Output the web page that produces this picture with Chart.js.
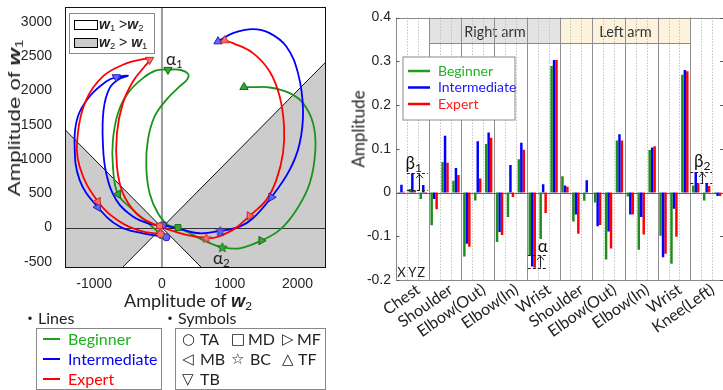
<!DOCTYPE html>
<html><head><meta charset="utf-8">
<script src="https://cdn.jsdelivr.net/npm/chart.js@4.4.0/dist/chart.umd.min.js"></script>
<style>
body{margin:0;width:723px;height:390px;position:relative;overflow:hidden;background:#fff;font-family:Lato,sans-serif;color:#222}
.abs{position:absolute;white-space:nowrap}
.wb{font-weight:bold;font-style:italic;font-family:'Liberation Sans',Arial,sans-serif}
sub{font-size:0.68em;vertical-align:-0.25em;line-height:0}
.box{position:absolute;border:1px solid #888;background:#fff}
.sw{position:absolute;height:2px}
.sym{position:absolute;font-family:'DejaVu Sans';font-size:15px;line-height:16px}
.stx{position:absolute;font-size:16px;line-height:16px}
</style></head><body>
<canvas id="c1" width="340" height="290" class="abs" style="left:0;top:0"></canvas>
<canvas id="c2" width="383" height="390" class="abs" style="left:340px;top:0"></canvas>

<!-- left chart overlays -->
<div class="box" style="left:69px;top:13px;width:84px;height:39px"></div>
<div class="abs" style="left:74px;top:20px;width:22px;height:8px;border:1px solid #000;background:#fff"></div>
<div class="abs" style="left:74px;top:38px;width:22px;height:8px;border:1px solid #000;background:#cccccc"></div>
<div class="abs" style="left:99px;top:17px;font:14px 'Liberation Sans';line-height:14px"><span class="wb">w</span><sub>1</sub> &gt;<span class="wb">w</span><sub>2</sub></div>
<div class="abs" style="left:99px;top:35px;font:14px 'Liberation Sans';line-height:14px"><span class="wb">w</span><sub>2</sub> &gt; <span class="wb">w</span><sub>1</sub></div>
<div class="abs" style="left:166px;top:50px;font-size:17px;line-height:17px">α<sub>1</sub></div>
<div class="abs" style="left:213px;top:249px;font-size:17px;line-height:17px">α<sub>2</sub></div>
<div class="abs" style="left:15px;top:118px;transform:translate(-50%,-50%) rotate(-90deg) scale(1.4,1);font:16px 'Liberation Sans';line-height:16px;color:#222">Amplitude of <span class="wb">w</span><sub>1</sub></div>
<div class="abs" style="left:188px;top:300px;transform:translate(-50%,-50%);font-size:18px;line-height:18px">Amplitude of <span class="wb">w</span><sub>2</sub></div>

<!-- right chart title -->
<div class="abs" style="left:358px;top:129px;transform:translate(-50%,-50%) rotate(-90deg);font-size:17px;line-height:17px">Amplitude</div>

<!-- bottom legends -->
<div class="abs" style="left:22px;top:309px;font-size:16px;line-height:16px"><span style="font-family:'Noto Sans CJK JP'">・</span>Lines</div>
<div class="box" style="left:36px;top:328px;width:124px;height:60px"></div>
<div class="sw" style="left:43px;top:338px;width:17px;background:#1ea01e"></div>
<div class="sw" style="left:43px;top:358px;width:17px;background:#0000ff"></div>
<div class="sw" style="left:43px;top:378px;width:17px;background:#ff0000"></div>
<div class="stx" style="left:68px;top:331px;color:#1eb01e">Beginner</div>
<div class="stx" style="left:68px;top:351px;color:#0000ff">Intermediate</div>
<div class="stx" style="left:68px;top:371px;color:#ff0000">Expert</div>

<div class="abs" style="left:162px;top:309px;font-size:16px;line-height:16px"><span style="font-family:'Noto Sans CJK JP'">・</span>Symbols</div>
<div class="box" style="left:175px;top:328px;width:149px;height:60px"></div>
<div class="sym" style="left:182px;top:331px">○</div><div class="stx" style="left:200px;top:331px">TA</div>
<div class="sym" style="left:231px;top:331px">□</div><div class="stx" style="left:248px;top:331px">MD</div>
<div class="sym" style="left:282px;top:331px">▷</div><div class="stx" style="left:297px;top:331px">MF</div>
<div class="sym" style="left:182px;top:351px">◁</div><div class="stx" style="left:200px;top:351px">MB</div>
<div class="sym" style="left:231px;top:351px">☆</div><div class="stx" style="left:250px;top:351px">BC</div>
<div class="sym" style="left:282px;top:351px">△</div><div class="stx" style="left:298px;top:351px">TF</div>
<div class="sym" style="left:182px;top:371px">▽</div><div class="stx" style="left:200px;top:371px">TB</div>

<script>
// ---------------- DATA: left panel (w2, w1) trajectories ----------------
const phases = ['TA','MB','TB','MD','BC','MF','TF'];
const beginnerPath = [[-10,-107],[-231,88],[-428,258],[-649,487],[-723,891],[-723,1281],[-649,1670],[-502,1963],[-280,2182],[-84,2294],[89,2304],[261,2304],[384,2245],[374,2167],[261,2060],[64,1865],[-108,1622],[-207,1281],[-231,891],[-182,502],[-59,209],[89,39],[236,0],[458,-107],[654,-205],[891,-287],[1146,-302],[1466,-190],[1737,-34],[1983,258],[2180,648],[2263,1135],[2229,1524],[2081,1817],[1884,1963],[1589,2045],[1343,2050],[1210,2050]];
const intermediatePath = [[64,-141],[-280,-83],[-625,15],[-945,297],[-1215,696],[-1289,1232],[-1240,1622],[-1068,1914],[-822,2133],[-674,2196],[-502,2216],[-625,2172],[-772,2036],[-861,1719],[-871,1232],[-822,794],[-674,404],[-428,161],[-182,54],[15,34],[310,-34],[556,-83],[861,-49],[1146,15],[1343,136],[1614,443],[1884,843],[2032,1232],[2081,1719],[2007,2255],[1835,2644],[1589,2839],[1343,2898],[1048,2839],[827,2717]];
const expertPath = [[-20,-97],[-330,-44],[-625,88],[-945,380],[-1215,891],[-1240,1378],[-1117,1865],[-871,2206],[-576,2377],[-280,2459],[-182,2450],[-256,2352],[-428,2133],[-576,1817],[-664,1378],[-664,891],[-576,502],[-379,209],[-133,54],[-34,24],[113,-34],[359,-107],[654,-151],[802,-141],[1048,-34],[1146,39],[1294,170],[1540,404],[1688,696],[1786,1086],[1801,1476],[1737,1914],[1589,2279],[1343,2547],[1048,2693],[925,2732]];
// phase markers, in the order of `phases`
const beginnerMarks = [[-10,-107],[-649,487],[89,2304],[236,0],[891,-287],[1466,-190],[1210,2050]];
const intermediateMarks = [[64,-141],[-945,297],[-674,2196],[15,34],[861,-49],[1614,443],[827,2717]];
const expertMarks = [[-20,-97],[-945,380],[-182,2450],[-34,24],[654,-151],[1294,170],[925,2732]];
const w2Range = [-1430, 2420];
const w1Range = [-590, 3220];
const w2Ticks = [-1000, 0, 1000, 2000];
const w1Ticks = [-500, 0, 500, 1000, 1500, 2000, 2500, 3000];

// ---------------- DATA: right panel (amplitudes) ----------------
const joints = ['Chest','Shoulder','Elbow(Out)','Elbow(In)','Wrist','Shoulder','Elbow(Out)','Elbow(In)','Wrist','Knee(Left)'];
const xyz = ['X','Y','Z'];
const beginner = [0.001,0.008,-0.015, -0.075,0.070,0.027, -0.146,-0.018,0.111, -0.113,-0.056,0.076, -0.143,-0.106,0.289,
                  0.037,-0.066,-0.019, -0.023,-0.153,0.119, -0.009,-0.131,0.097, -0.099,-0.163,0.269, 0.016,-0.018,-0.003];
const intermediate = [0.018,0.044,0.017, -0.015,0.130,0.056, -0.117,0.117,0.137, -0.090,0.063,0.114, -0.169,0.019,0.303,
                  0.016,-0.050,0.028, -0.077,-0.089,0.133, -0.050,-0.056,0.103, -0.148,-0.037,0.280, 0.047,0.022,-0.008];
const expert = [0.002,0.005,-0.002, -0.038,0.068,0.040, -0.124,0.032,0.125, -0.097,-0.010,0.098, -0.172,-0.047,0.303,
                  0.013,-0.094,0.000, -0.074,-0.128,0.119, -0.050,-0.096,0.106, -0.140,-0.101,0.277, 0.021,0.015,-0.008];
const yTicks = [-0.2,-0.1,0,0.1,0.2,0.3,0.4];
const armGroups = [{name:'Right arm', first:1, last:4, fill:'#e3e3e3'}, {name:'Left arm', first:5, last:8, fill:'#fdf3dc'}];

const G = {line:'#1a941a', fill:'#35a535', edge:'#146b14', bar:'#1e8c1e'};
const B = {line:'#0000ff', fill:'#6464ff', edge:'#2222b0', bar:'#0000ff'};
const R = {line:'#ff0000', fill:'#ff6a6a', edge:'#c02a2a', bar:'#ff0000'};

Chart.defaults.font.family = "'Liberation Sans', Arial, sans-serif";
Chart.defaults.color = '#262626';

// ---------- left chart ----------
function starImg(fill, stroke, r){
  const c = document.createElement('canvas'); const s = Math.ceil(r*2+3); c.width = c.height = s;
  const g = c.getContext('2d'); g.translate(s/2, s/2+0.5); g.beginPath();
  for (let k=0;k<10;k++){ const rr = k%2 ? r*0.45 : r; const a = -Math.PI/2 + k*Math.PI/5; g.lineTo(rr*Math.cos(a), rr*Math.sin(a)); }
  g.closePath(); g.fillStyle = fill; g.fill(); g.strokeStyle = stroke; g.lineWidth = 0.9; g.stroke(); return c;
}
const phaseStyle = {TA:['circle',0,3.6], MB:['triangle',270,4.8], TB:['triangle',180,4.8], MD:['rect',0,4.2], BC:['star',0,5], MF:['triangle',90,4.8], TF:['triangle',0,4.8]};
function markerSet(marks, col){
  const star = starImg(col.fill, col.edge, 5);
  return {
    data: marks.map(([x,y])=>({x,y})), showLine:false, order:0,
    pointStyle: phases.map(p => phaseStyle[p][0]==='star' ? star : phaseStyle[p][0]),
    rotation: phases.map(p => phaseStyle[p][1]),
    pointRadius: phases.map(p => phaseStyle[p][2]),
    backgroundColor: col.fill, borderColor: col.edge, pointBorderWidth: 1
  };
}
function pathSet(path, col){
  return {data: path.map(([x,y])=>({x,y})), showLine:true, borderColor: col.line, borderWidth:1.8, pointRadius:0, tension:0.4, fill:false, order:1};
}
const leftDecor = {
  id:'leftDecor',
  beforeDatasetsDraw(chart){
    const {ctx, chartArea:a, scales:{x,y}} = chart;
    const P = (vx,vy)=>[x.getPixelForValue(vx), y.getPixelForValue(vy)];
    const [x0,x1] = w2Range, [y0,y1] = w1Range;
    ctx.save(); ctx.beginPath(); ctx.rect(a.left,a.top,a.width,a.height); ctx.clip();
    ctx.fillStyle = '#cccccc';
    const polys = [[[0,0],[x0,-x0],[x0,y0],[y0,y0]], [[0,0],[x1,x1],[x1,y0],[-y0,y0]]];
    polys.forEach(poly=>{ ctx.beginPath(); poly.forEach(([u,v],i)=>{const [px,py]=P(u,v); i?ctx.lineTo(px,py):ctx.moveTo(px,py);}); ctx.closePath(); ctx.fill(); });
    ctx.strokeStyle = '#111'; ctx.lineWidth = 1;
    [[[y0,y0],[x1,x1]], [[x0,-x0],[-y0,y0]]].forEach(([p,q])=>{ ctx.beginPath(); ctx.moveTo(...P(...p)); ctx.lineTo(...P(...q)); ctx.stroke(); });
    ctx.strokeStyle = '#9a9a9a'; ctx.lineWidth = 2;
    ctx.beginPath(); ctx.moveTo(P(0,0)[0], a.top); ctx.lineTo(P(0,0)[0], a.bottom); ctx.stroke();
    ctx.strokeStyle = '#333'; ctx.lineWidth = 1;
    const yz = Math.round(P(0,0)[1])+0.5;
    ctx.beginPath(); ctx.moveTo(a.left, yz); ctx.lineTo(a.right, yz); ctx.stroke();
    ctx.restore();
  },
  afterDraw(chart){
    const {ctx, chartArea:a} = chart;
    ctx.save(); ctx.strokeStyle = '#111'; ctx.lineWidth = 1;
    ctx.strokeRect(Math.round(a.left)+0.5, Math.round(a.top)+0.5, Math.round(a.width)-1, Math.round(a.height)-1);
    ctx.restore();
  }
};
new Chart(document.getElementById('c1'), {
  type:'scatter',
  data:{datasets:[markerSet(expertMarks,R), markerSet(intermediateMarks,B), markerSet(beginnerMarks,G),
                  pathSet(expertPath,R), pathSet(intermediatePath,B), pathSet(beginnerPath,G)]},
  options:{
    responsive:false, animation:false, events:[],
    layout:{padding:{top:7, right:14, left:0, bottom:0}},
    plugins:{legend:{display:false}, tooltip:{enabled:false}},
    scales:{
      x:{type:'linear', min:w2Range[0], max:w2Range[1], grid:{display:false, drawTicks:false}, border:{display:false},
         ticks:{padding:8, font:{size:14}, color:'#262626', callback:v=>String(v)},
         afterBuildTicks(s){ s.ticks = w2Ticks.map(v=>({value:v})); },
         afterFit(s){ s.height = 22; s.paddingLeft = 0; s.paddingRight = 0; }},
      y:{type:'linear', min:w1Range[0], max:w1Range[1], grid:{display:false, drawTicks:false}, border:{display:false},
         ticks:{padding:13, font:{size:14}, color:'#262626', callback:v=>String(v)},
         afterBuildTicks(s){ s.ticks = w1Ticks.map(v=>({value:v})); },
         afterFit(s){ s.width = 65; s.paddingTop = 0; s.paddingBottom = 0; }}
    }
  },
  plugins:[leftDecor]
});

// ---------- right chart ----------
const slotLabels = joints.flatMap(j => xyz.map(a => j + ' ' + a));
function bracket(ctx, xl, xr, yt, yb, xa){
  ctx.save(); ctx.strokeStyle = '#222'; ctx.lineWidth = 1; ctx.setLineDash([3,2]);
  [yt,yb].forEach(v=>{ const yy = Math.round(v)+0.5; ctx.beginPath(); ctx.moveTo(xl,yy); ctx.lineTo(xr,yy); ctx.stroke(); });
  ctx.setLineDash([]); const xx = Math.round(xa)+0.5;
  ctx.beginPath(); ctx.moveTo(xx, yb); ctx.lineTo(xx, yt+1); ctx.stroke();
  ctx.beginPath(); ctx.moveTo(xx-3.5, yt+5); ctx.lineTo(xx, yt+1); ctx.lineTo(xx+3.5, yt+5); ctx.stroke();
  ctx.restore();
}
function symText(ctx, main, sub, cx, baseY){
  ctx.save(); ctx.fillStyle = '#111'; ctx.textBaseline = 'alphabetic';
  ctx.font = "17px Lato"; const w1 = ctx.measureText(main).width;
  ctx.font = "12px Lato"; const w2 = sub ? ctx.measureText(sub).width : 0;
  const x0 = cx - (w1+w2)/2;
  ctx.font = "17px Lato"; ctx.fillText(main, x0, baseY);
  if (sub){ ctx.font = "12px Lato"; ctx.fillText(sub, x0+w1, baseY+3); }
  ctx.restore();
}
const rightDecor = {
  id:'rightDecor',
  beforeDatasetsDraw(chart){
    const {ctx, chartArea:a, scales:{x,y}} = chart;
    const bound = i => x.getPixelForValue(i - 0.5);
    ctx.save();
    armGroups.forEach(g=>{
      const l = Math.round(bound(g.first*3))+0.5, r = Math.round(bound((g.last+1)*3))+0.5;
      const t = Math.round(a.top)+0.5, h = 25;
      ctx.fillStyle = g.fill; ctx.fillRect(l, t, r-l, h);
      ctx.strokeStyle = '#8a8a8a'; ctx.lineWidth = 1; ctx.strokeRect(l, t, r-l, h);
      ctx.fillStyle = '#333'; ctx.font = "14.5px Lato"; ctx.textAlign = 'center'; ctx.textBaseline = 'middle';
      ctx.fillText(g.name, (l+r)/2, t + h/2 + 1);
    });
    for (let i=0;i<=slotLabels.length;i++){
      const xx = Math.round(bound(i))+0.5;
      ctx.beginPath(); ctx.moveTo(xx, a.top); ctx.lineTo(xx, a.bottom);
      if (i%3===0){ ctx.setLineDash([]); ctx.strokeStyle = '#8f8f8f'; }
      else { ctx.setLineDash([1.5,1.5]); ctx.strokeStyle = '#c2c2c2'; }
      ctx.lineWidth = 1; ctx.stroke();
    }
    ctx.setLineDash([]);
    const yz = Math.round(y.getPixelForValue(0))+0.5;
    ctx.strokeStyle = '#666'; ctx.beginPath(); ctx.moveTo(a.left, yz); ctx.lineTo(a.right, yz); ctx.stroke();
    ctx.restore();
  },
  afterDatasetsDraw(chart){
    const {ctx, chartArea:a, scales:{x,y}} = chart;
    const bound = i => x.getPixelForValue(i - 0.5);
    ctx.save();
    ctx.strokeStyle = '#8a8a8a'; ctx.lineWidth = 1;
    const t = Math.round(a.top)+0.5, b = Math.round(a.bottom)+0.5, l = Math.round(a.left)+0.5;
    ctx.beginPath(); ctx.moveTo(a.right, t); ctx.lineTo(l, t); ctx.lineTo(l, b); ctx.lineTo(a.right, b); ctx.stroke();
    ctx.strokeStyle = '#555';
    yTicks.forEach(v=>{ const yy = Math.round(y.getPixelForValue(v))+0.5;
      ctx.beginPath(); ctx.moveTo(a.right-3, yy); ctx.lineTo(a.right, yy); ctx.stroke();
      ctx.beginPath(); ctx.moveTo(l, yy); ctx.lineTo(l+3, yy); ctx.stroke(); });
    const lx = a.left + 7, ly = a.top + 39.5;
    ctx.fillStyle = '#fff'; ctx.fillRect(lx, ly, 112, 63);
    ctx.strokeStyle = '#8a8a8a'; ctx.strokeRect(lx, ly, 112, 63);
    [['Beginner','#1ea01e','#22b422'],['Intermediate','#0000ff','#1a1aff'],['Expert','#ff0000','#ff2020']].forEach(([n,lc,tc],k)=>{
      const yy = ly + 14 + k*16.5;
      ctx.strokeStyle = lc; ctx.lineWidth = 2.5; ctx.beginPath(); ctx.moveTo(lx+5, yy); ctx.lineTo(lx+27, yy); ctx.stroke();
      ctx.fillStyle = tc; ctx.font = "14px Lato"; ctx.textBaseline = 'middle'; ctx.textAlign = 'left'; ctx.fillText(n, lx+35, yy);
    });
    bracket(ctx, bound(1), bound(3)-1, y.getPixelForValue(intermediate[1]), y.getPixelForValue(expert[1]), bound(2)+1.5);
    symText(ctx, 'β', '1', bound(2)-4, y.getPixelForValue(intermediate[1]) - 4);
    bracket(ctx, bound(27), bound(29), y.getPixelForValue(intermediate[27]), y.getPixelForValue(expert[27]), bound(28)+1);
    symText(ctx, 'β', '2', bound(28)+1, y.getPixelForValue(intermediate[27]) - 5);
    bracket(ctx, bound(12)+1, bound(14)-2, y.getPixelForValue(beginner[12]), y.getPixelForValue(expert[12]), bound(13)+2);
    symText(ctx, 'α', '', bound(13)+5, y.getPixelForValue(beginner[12]) - 3);
    ctx.fillStyle = '#222'; ctx.font = "13px Lato"; ctx.textAlign = 'center'; ctx.textBaseline = 'alphabetic';
    xyz.forEach((s,k)=> ctx.fillText(s, x.getPixelForValue(k) - (k===2?2:0), a.bottom - 3));
    ctx.restore();
  }
};
new Chart(document.getElementById('c2'), {
  type:'bar',
  data:{labels: slotLabels, datasets:[
    {label:'Beginner', data:beginner, backgroundColor:G.bar},
    {label:'Intermediate', data:intermediate, backgroundColor:B.bar},
    {label:'Expert', data:expert, backgroundColor:R.bar}]},
  options:{
    responsive:false, animation:false, events:[],
    datasets:{bar:{categoryPercentage:0.68, barPercentage:1, borderWidth:0}},
    layout:{padding:{top:17.5, right:0, left:0, bottom:0}},
    plugins:{legend:{display:false}, tooltip:{enabled:false}},
    scales:{
      x:{grid:{display:false, drawTicks:false}, border:{display:false},
         ticks:{autoSkip:false, minRotation:35, maxRotation:35, padding:0, labelOffset:6, font:{family:'Lato', size:16}, color:'#222',
                callback:(v,i)=> i%3===1 ? joints[(i-1)/3] : ''},
         afterFit(s){ s.height = 110; s.paddingLeft = 0; s.paddingRight = 0; }},
      y:{min:-0.2, max:0.4, grid:{display:false, drawTicks:false}, border:{display:false},
         ticks:{stepSize:0.1, padding:5, font:{size:14}, color:'#262626', callback:v=>String(Number(v.toFixed(1)))},
         afterFit(s){ s.width = 56; s.paddingTop = 0; s.paddingBottom = 0; }}
    }
  },
  plugins:[rightDecor]
});
</script>
</body></html>
